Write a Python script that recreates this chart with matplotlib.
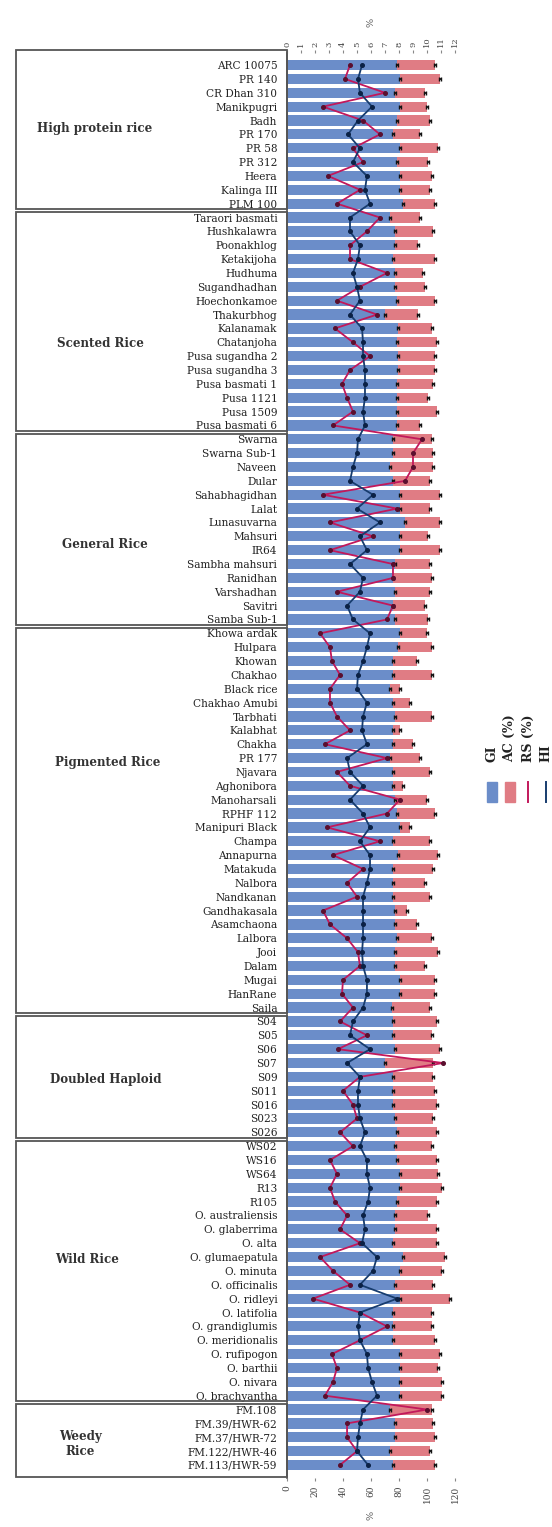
import numpy as np
import matplotlib
matplotlib.use("Agg")
import matplotlib.pyplot as plt
from matplotlib.patches import Rectangle
from matplotlib.lines import Line2D

plt.rcParams['font.family'] = ['DejaVu Serif']

# ---------------- data ----------------
group_names = ["High protein rice", "Scented Rice", "General Rice", "Pigmented Rice",
               "Doubled Haploid", "Wild Rice", "Weedy\nRice"]
group_sizes = [11, 16, 14, 28, 9, 19, 5]

varieties = [
    # High protein rice
    "ARC 10075", "PR 140", "CR Dhan 310", "Manikpugri", "Badh", "PR 170", "PR 58", "PR 312",
    "Heera", "Kalinga III", "PLM 100",
    # Scented rice
    "Taraori basmati", "Hushkalawra", "Poonakhlog", "Ketakijoha", "Hudhuma", "Sugandhadhan",
    "Hoechonkamoe", "Thakurbhog", "Kalanamak", "Chatanjoha", "Pusa sugandha 2",
    "Pusa sugandha 3", "Pusa basmati 1", "Pusa 1121", "Pusa 1509", "Pusa basmati 6",
    # General rice
    "Swarna", "Swarna Sub-1", "Naveen", "Dular", "Sahabhagidhan", "Lalat", "Lunasuvarna",
    "Mahsuri", "IR64", "Sambha mahsuri", "Ranidhan", "Varshadhan", "Savitri", "Samba Sub-1",
    # Pigmented rice
    "Khowa ardak", "Hulpara", "Khowan", "Chakhao", "Black rice", "Chakhao Amubi", "Tarbhati",
    "Kalabhat", "Chakha", "PR 177", "Njavara", "Aghonibora", "Manoharsali", "RPHF 112",
    "Manipuri Black", "Champa", "Annapurna", "Matakuda", "Nalbora", "Nandkanan",
    "Gandhakasala", "Asamchaona", "Lalbora", "Jooi", "Dalam", "Mugai", "HanRane", "Saila",
    # Doubled haploid
    "S04", "S05", "S06", "S07", "S09", "S011", "S016", "S023", "S026",
    # Wild rice
    "WS02", "WS16", "WS64", "R13", "R105", "O. australiensis", "O. glaberrima", "O. alta",
    "O. glumaepatula", "O. minuta", "O. officinalis", "O. ridleyi", "O. latifolia",
    "O. grandiglumis", "O. meridionalis", "O. rufipogon", "O. barthii", "O. nivara",
    "O. brachyantha",
    # Weedy rice
    "FM.108", "FM.39/HWR-62", "FM.37/HWR-72", "FM.122/HWR-46", "FM.113/HWR-59",
]

gi = [
    78.6, 80.7, 77.1, 80.7, 78.6, 75.7, 80.7, 78.6, 80.7, 80.7, 82.9,
    73.6, 77.1, 77.1, 75.7, 77.1, 77.1, 78.6, 70.0, 79.3, 78.6, 79.3, 79.3, 78.6, 78.6, 78.6, 78.6,
    75.7, 75.7, 73.6, 75.7, 80.7, 80.7, 84.3, 80.7, 80.7, 77.1, 75.7, 77.1, 75.7, 77.1,
    80.7, 79.3, 75.7, 75.7, 73.6, 75.7, 77.1, 75.7, 75.7, 73.6, 75.7, 75.7, 77.1, 78.6,
    80.7, 75.7, 79.3, 75.7, 75.7, 75.7, 77.1, 77.1, 78.6, 77.1, 77.1, 80.7, 80.7, 75.0,
    75.7, 75.7, 77.1, 70.0, 75.7, 75.7, 75.7, 77.1, 78.6,
    77.1, 78.6, 80.7, 80.7, 78.6, 77.1, 77.1, 75.7, 82.9, 80.7, 77.1, 80.7, 75.7, 75.7,
    75.7, 80.7, 80.7, 80.7, 80.7,
    73.6, 77.1, 77.1, 73.6, 75.7,
]

ac = [
    27.1, 28.6, 21.4, 19.3, 23.6, 19.3, 27.1, 22.1, 22.9, 21.4, 22.9,
    21.4, 27.1, 16.4, 30.0, 20.0, 21.4, 27.1, 23.6, 24.3, 28.6, 26.4, 26.4, 25.7, 22.1, 28.6, 16.4,
    27.9, 28.6, 30.7, 26.4, 28.6, 21.4, 25.0, 20.0, 28.6, 25.0, 27.9, 25.0, 22.9, 23.6,
    19.3, 24.3, 17.1, 27.9, 7.1, 12.1, 26.4, 5.0, 14.3, 21.4, 26.4, 7.1, 22.9, 27.1,
    7.1, 26.4, 28.6, 28.6, 22.9, 26.4, 8.6, 15.7, 25.0, 30.7, 21.4, 25.0, 25.0, 27.1,
    31.4, 27.9, 32.1, 34.3, 28.6, 30.0, 31.4, 27.1, 28.6,
    26.4, 28.6, 27.1, 30.0, 28.6, 23.6, 30.0, 31.4, 30.0, 30.0, 27.1, 35.7, 27.9, 27.9,
    30.0, 28.6, 27.1, 30.0, 30.0,
    30.0, 27.1, 28.6, 28.6, 30.0,
]

rs = [
    4.50, 4.14, 7.00, 2.57, 5.43, 6.64, 4.71, 5.43, 2.93, 5.21, 3.57,
    6.64, 5.71, 4.50, 4.50, 7.14, 5.21, 3.57, 6.43, 3.43, 4.71, 5.93, 4.50, 3.93, 4.29, 4.71, 3.29,
    9.64, 9.00, 9.00, 8.43, 2.57, 7.86, 3.07, 6.14, 3.07, 7.57, 7.57, 3.57, 7.57, 7.14,
    2.36, 3.07, 3.21, 3.79, 3.07, 3.07, 3.57, 4.50, 2.71, 7.14, 3.57, 4.50, 8.07, 7.14,
    2.86, 6.64, 3.29, 5.43, 4.29, 5.00, 2.57, 3.07, 4.29, 5.07, 5.21, 4.00, 3.93, 4.71,
    3.79, 5.71, 3.64, 11.14, 5.21, 4.00, 4.71, 5.00, 3.79,
    4.71, 3.07, 3.57, 3.07, 3.43, 4.29, 3.79, 5.21, 2.36, 3.29, 4.50, 1.86, 5.21, 7.14,
    5.21, 3.21, 3.57, 3.29, 2.71,
    10.00, 4.29, 4.29, 5.00, 3.79,
]

hi = [
    5.36, 5.07, 5.21, 6.07, 5.07, 4.36, 5.21, 4.71, 5.71, 5.57, 5.93,
    4.50, 4.50, 5.21, 5.07, 4.71, 5.00, 5.21, 4.50, 5.36, 5.43, 5.43, 5.57, 5.57, 5.57, 5.43, 5.57,
    5.07, 5.00, 4.71, 4.50, 6.14, 5.00, 6.64, 5.21, 5.71, 4.50, 5.43, 5.21, 4.29, 4.71,
    5.93, 5.71, 5.43, 5.07, 5.00, 5.71, 5.43, 5.36, 5.71, 4.29, 4.50, 5.43, 4.50, 5.43,
    5.93, 5.21, 5.93, 5.93, 5.71, 5.43, 5.43, 5.43, 5.43, 5.36, 5.43, 5.71, 5.71, 5.43,
    4.71, 4.50, 5.93, 4.29, 5.21, 5.07, 5.07, 5.21, 5.57,
    5.21, 5.71, 5.71, 5.93, 5.79, 5.43, 5.57, 5.36, 6.43, 6.14, 5.21, 7.86, 5.21, 5.07,
    5.21, 5.71, 5.79, 6.07, 6.43,
    5.43, 5.21, 5.07, 5.00, 5.79,
]

bottom_ticks = [0, 20, 40, 60, 80, 100, 120]
top_ticks = list(range(0, 13))

# group label positions (x in px of left panel, y in row units)
group_label_x = [95, 100, 105, 108, 106, 87, 80]
group_label_y = [4.6, 20.1, 34.6, 50.3, 73.2, 86.2, 99.5]

# ---------------- figure ----------------
W, H = 552, 1527
fig = plt.figure(figsize=(W / 100, H / 100), dpi=100)

def fx(px):
    return px / W

def fy(py):
    return 1 - py / H

n = len(varieties)
y = np.arange(n)
ylim = (n - 1 + 0.94, -0.87)

ax_l, ax_r = 287, 455
ax_t, ax_b = 53, 1478
ax = fig.add_axes([fx(ax_l), fy(ax_b), fx(ax_r - ax_l), (ax_b - ax_t) / H])

c_gi = "#6b8dc9"
c_ac = "#e07c84"
c_rs = "#c2185b"
c_hi = "#173c6e"

ax.barh(y, gi, height=0.74, color=c_gi, zorder=2)
ax.barh(y, ac, left=gi, height=0.74, color=c_ac, zorder=2)
gi_arr = np.array(gi)
ac_arr = np.array(ac)
ax.errorbar(gi_arr, y, xerr=0.8, fmt='none', ecolor='#111111', elinewidth=1.3,
            capsize=1.6, capthick=1.0, zorder=3)
ax.errorbar(gi_arr + ac_arr, y, xerr=0.8, fmt='none', ecolor='#111111', elinewidth=1.3,
            capsize=1.6, capthick=1.0, zorder=3)

ax.set_xlim(0, 120)
ax.set_ylim(*ylim)
ax.set_xticks(bottom_ticks)
ax.set_xticklabels([str(t) for t in bottom_ticks], rotation=90, fontsize=6.5, color="#444444")
ax.set_yticks(y)
ax.set_yticklabels(varieties, fontsize=7.6, color="#222222")
ax.tick_params(axis='y', length=0, pad=7)
ax.tick_params(axis='x', length=2.5, pad=3, color="#888888")
ax.set_xlabel("%", rotation=90, fontsize=7, color="#555555", labelpad=6)
for s in ["top", "right", "bottom"]:
    ax.spines[s].set_visible(False)
ax.spines["left"].set_color("#555555")
ax.spines["left"].set_linewidth(1.2)

ax2 = ax.twiny()
ax2.set_xlim(0, 12)
ax2.set_ylim(*ylim)
ax2.plot(rs, y, color=c_rs, lw=1.3, marker='o', ms=2.6, mfc="#5a0f2e", mec="#5a0f2e", zorder=4)
ax2.plot(hi, y, color=c_hi, lw=1.3, marker='o', ms=2.6, mfc="#0b2145", mec="#0b2145", zorder=4)
ax2.set_xticks(top_ticks)
ax2.set_xticklabels([str(t) for t in top_ticks], rotation=90, fontsize=6, color="#444444")
ax2.tick_params(axis='x', length=2.5, pad=2, color="#888888")
ax2.set_xlabel("%", rotation=90, fontsize=7, color="#555555", labelpad=8)
for s in ["top", "right", "bottom", "left"]:
    ax2.spines[s].set_visible(False)

# ---------------- left group panel ----------------
axl = fig.add_axes([fx(15), fy(ax_b), fx(ax_l - 15), (ax_b - ax_t) / H])
axl.set_xlim(15, ax_l)
axl.set_ylim(*ylim)
axl.axis('off')
start = 0
for gname, gs, gx, gy in zip(group_names, group_sizes, group_label_x, group_label_y):
    top = start - 0.5 + 0.12
    bot = start + gs - 0.5 - 0.12
    if start == 0:
        top = -1.1
    if start + gs == n:
        bot = n - 1 + 0.85
    axl.add_patch(Rectangle((16, top), ax_l - 16, bot - top, fill=False,
                            edgecolor="#555555", lw=1.3, clip_on=False))
    axl.text(gx, gy, gname, ha='center', va='center', fontsize=8.6, fontweight='bold',
             color="#333333", linespacing=1.2)
    start += gs

# ---------------- legend (rotated) ----------------
leg_x = [492, 510, 528, 546]
leg_lab = ["GI", "AC (%)", "RS (%)", "HI"]
for lx, lab in zip(leg_x, leg_lab):
    fig.text(fx(lx), fy(762), lab, rotation=90, ha='center', va='bottom',
             fontsize=9, fontweight='bold', color="#222222")
fig.patches.append(Rectangle((fx(487), fy(802)), fx(10), 20 / H, transform=fig.transFigure,
                             color=c_gi, figure=fig))
fig.patches.append(Rectangle((fx(505), fy(802)), fx(10), 20 / H, transform=fig.transFigure,
                             color=c_ac, figure=fig))
fig.lines.append(Line2D([fx(528), fx(528)], [fy(802), fy(782)], transform=fig.transFigure,
                        color=c_rs, lw=1.4, figure=fig))
fig.lines.append(Line2D([fx(546), fx(546)], [fy(802), fy(782)], transform=fig.transFigure,
                        color=c_hi, lw=1.4, figure=fig))

fig.savefig("out.png", dpi=100)
